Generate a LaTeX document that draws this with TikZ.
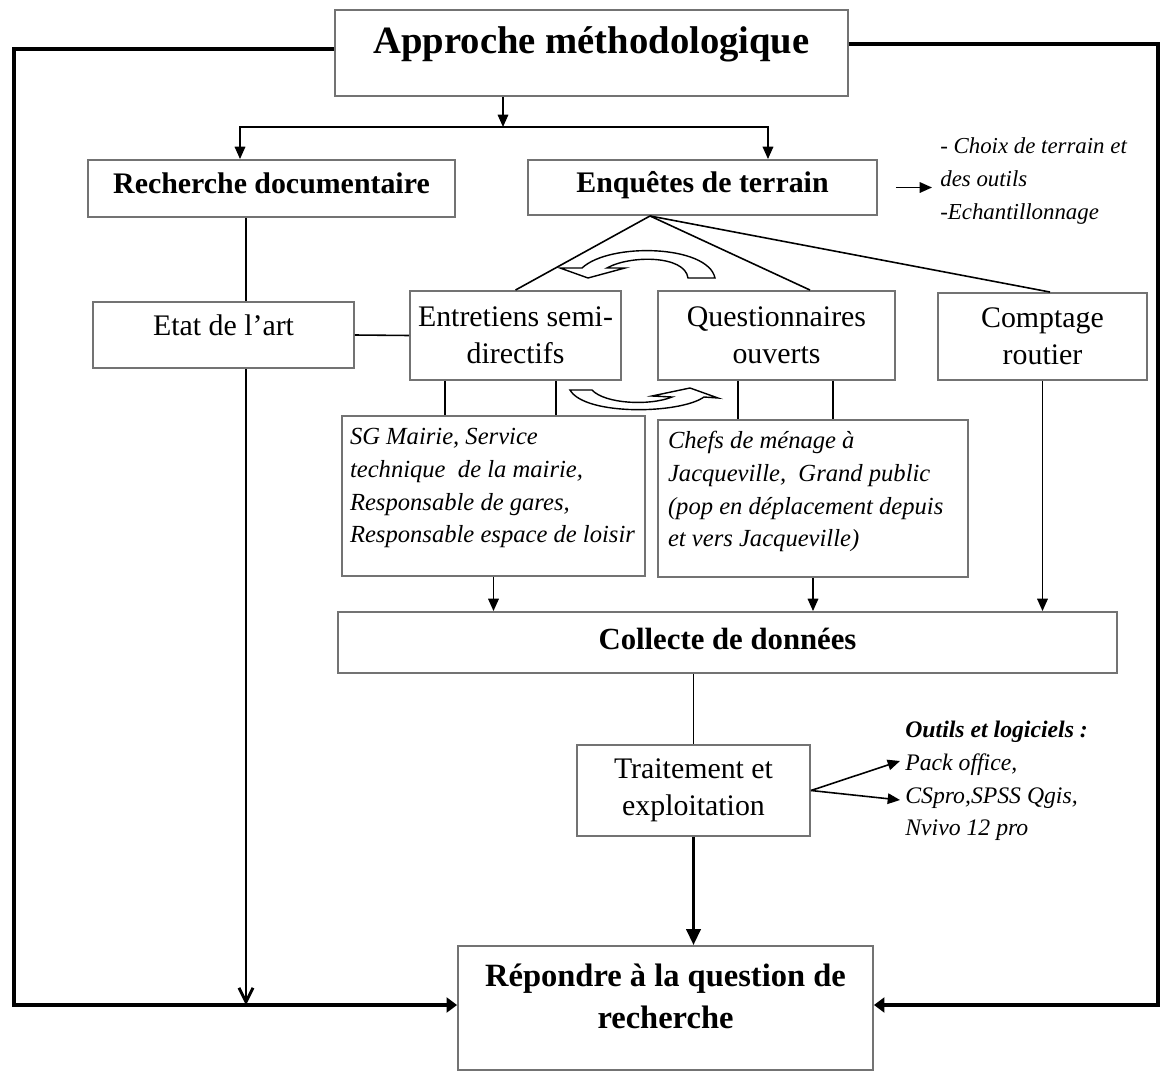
\documentclass[tikz,border=0pt]{standalone}
\usepackage{fontspec}
\setmainfont{Liberation Serif}
\usetikzlibrary{arrows.meta,positioning}

\begin{document}
\begin{tikzpicture}[
    x=0.02cm, y=-0.02cm,
    box/.style={rectangle, draw=black!55, line width=1.1pt, align=center, inner sep=0pt},
    note/.style={anchor=west, align=left, inner sep=0pt, font=\fontsize{13}{18.7}\selectfont\itshape},
    conn/.style={line width=0.9pt},
    arrow/.style={line width=0.9pt, -{Triangle[length=7pt,width=6pt]}},
    loopline/.style={line width=2pt, -{Triangle[length=6pt,width=8.5pt]}},
    bigarrow/.style={line width=1.8pt, -{Triangle[length=9pt,width=8pt]}},
    curvedarrow/.style={line width=0.8pt, fill=white}
]
\useasboundingbox (0,0) rectangle (1161,1072);

\node[box, minimum width=10.26cm, minimum height=1.72cm, text height=15pt, text depth=15pt, font=\fontsize{22}{26}\selectfont\bfseries] (appr) at (591.5,53) {Approche méthodologique};
\node[box, minimum width=7.34cm, minimum height=1.14cm, text height=11.7pt, text depth=6.5pt, font=\fontsize{17}{20}\selectfont\bfseries] (rech) at (271.5,188.5) {Recherche documentaire};
\node[box, minimum width=6.98cm, minimum height=1.10cm, text height=11.7pt, text depth=5.5pt, font=\fontsize{17}{20}\selectfont\bfseries] (enq) at (702.5,187.5) {Enquêtes de terrain};
\node[note, inner xsep=0.16cm] (choix) at (932,181) {- Choix de terrain et\\des outils\\-Echantillonnage};

\node[box, minimum width=5.22cm, minimum height=1.32cm, text height=11.5pt, text depth=11.5pt, font=\fontsize{17}{21}\selectfont] (etat) at (223.5,335) {Etat de l'art};
\node[box, minimum width=4.22cm, minimum height=1.78cm, font=\fontsize{17}{21}\selectfont] (entr) at (515.5,335.5) {Entretiens semi-\\directifs};
\node[box, minimum width=4.74cm, minimum height=1.78cm, font=\fontsize{17}{21}\selectfont] (quest) at (776.5,335.5) {Questionnaires\\ouverts};
\node[box, minimum width=4.18cm, minimum height=1.74cm, font=\fontsize{17}{21}\selectfont] (compt) at (1042.5,336.5) {Comptage\\routier};

\node[box, minimum width=6.06cm, minimum height=3.2cm, font=\fontsize{14}{18.7}\selectfont\itshape] (sg) at (493.5,496) {\parbox[c][2.72cm][t]{5.74cm}{\raggedright SG Mairie, Service\\technique\ \ de la mairie,\\Responsable de gares,\\Responsable espace de loisir}};
\node[box, minimum width=6.2cm, minimum height=3.14cm, font=\fontsize{14}{18.7}\selectfont\itshape] (chefs) at (813,498.5) {\parbox[c][2.7cm][t]{5.8cm}{\raggedright Chefs de ménage à\\Jacqueville,\ \ Grand public\\(pop en déplacement depuis\\et vers Jacqueville)}};

\node[box, minimum width=15.58cm, minimum height=1.22cm, text height=12.1pt, text depth=3.6pt, font=\fontsize{17.5}{21}\selectfont\bfseries] (coll) at (727.5,642.5) {Collecte de données};
\node[box, minimum width=4.66cm, minimum height=1.82cm, font=\fontsize{17}{21}\selectfont] (trait) at (693.5,790.5) {Traitement et\\exploitation};
\node[note, font=\fontsize{13.5}{18.7}\selectfont\itshape] (outils) at (905,781) {\textbf{Outils et logiciels :}\\Pack office,\\CSpro,SPSS Qgis,\\Nvivo 12 pro};
\node[box, minimum width=8.3cm, minimum height=2.48cm, font=\fontsize{18.5}{23.8}\selectfont\bfseries] (rep) at (665.5,1008) {\parbox[c][1.76cm][t]{8cm}{\centering Répondre à la question de\\recherche}};

\coordinate (fork) at (503,127);
\draw[arrow] (appr.south -| fork) -- (fork);
\draw[arrow] (fork) -| ([xshift=-0.63cm]rech.north);
\draw[arrow] (fork) -| ([xshift=1.31cm]enq.north);
\draw[arrow] ([xshift=0.36cm]enq.east) -- (enq.east -| choix.west);

\draw[conn] ([xshift=0.45cm]etat.north) -- ([xshift=0.45cm]etat.north |- rech.south);
\draw[conn] (etat.east) -- (entr.west);
\draw[conn] ([xshift=-1.05cm]enq.south) -- (entr.north);
\draw[conn] ([xshift=-1.05cm]enq.south) -- ([xshift=0.67cm]quest.north);
\draw[conn] ([xshift=-1.05cm]enq.south) -- ([xshift=0.15cm]compt.north);

\draw[conn] ([xshift=-1.41cm]entr.south) -- ([xshift=-1.41cm]entr.south |- sg.north);
\draw[conn] ([xshift=0.81cm]entr.south) -- ([xshift=0.81cm]entr.south |- sg.north);
\draw[conn] ([xshift=-0.77cm]quest.south) -- ([xshift=-0.77cm]quest.south |- chefs.north);
\draw[conn] ([xshift=1.13cm]quest.south) -- ([xshift=1.13cm]quest.south |- chefs.north);

\draw[arrow] (sg.south) -- (sg.south |- coll.north);
\draw[arrow] (chefs.south) -- (chefs.south |- coll.north);
\draw[arrow] (compt.south) -- (compt.south |- coll.north);
\draw[conn] (trait.north |- coll.south) -- (trait.north);

\coordinate (pk) at (900,761);
\coordinate (cs) at (900,800);
\draw[arrow] (trait.east) -- (pk);
\draw[arrow] (trait.east) -- (cs);
\draw[bigarrow] (trait.south) -- (trait.south |- rep.north);

\coordinate (lft) at (14,0);
\coordinate (rgt) at (1158,0);
\coordinate (lin) at ([yshift=0.06cm]rep.west);
\coordinate (rin) at ([yshift=0.06cm]rep.east);
\draw[loopline] ([yshift=0.08cm]appr.west) -| (lft |- lin) -- (lin);
\draw[loopline] ([yshift=0.18cm]appr.east) -| (rgt |- rin) -- (rin);
\draw[line width=1.6pt, -{Straight Barb[length=8pt,width=8pt]}] ([xshift=0.45cm]etat.south) -- ([xshift=0.45cm]etat.south |- lin);

\draw[curvedarrow] (715,278) .. controls (708,245) and (610,242) .. (582,268) -- (560,268) -- (588,278) -- (625,268) -- (607,268) .. controls (630,255) and (685,255) .. (688,278) -- cycle;
\draw[curvedarrow] (570,390) .. controls (585,416) and (680,414) .. (704,397) -- (718,398) -- (690,388) -- (652,396) -- (672,397) .. controls (650,406) and (605,404) .. (592,390) -- cycle;
\end{tikzpicture}
\end{document}
